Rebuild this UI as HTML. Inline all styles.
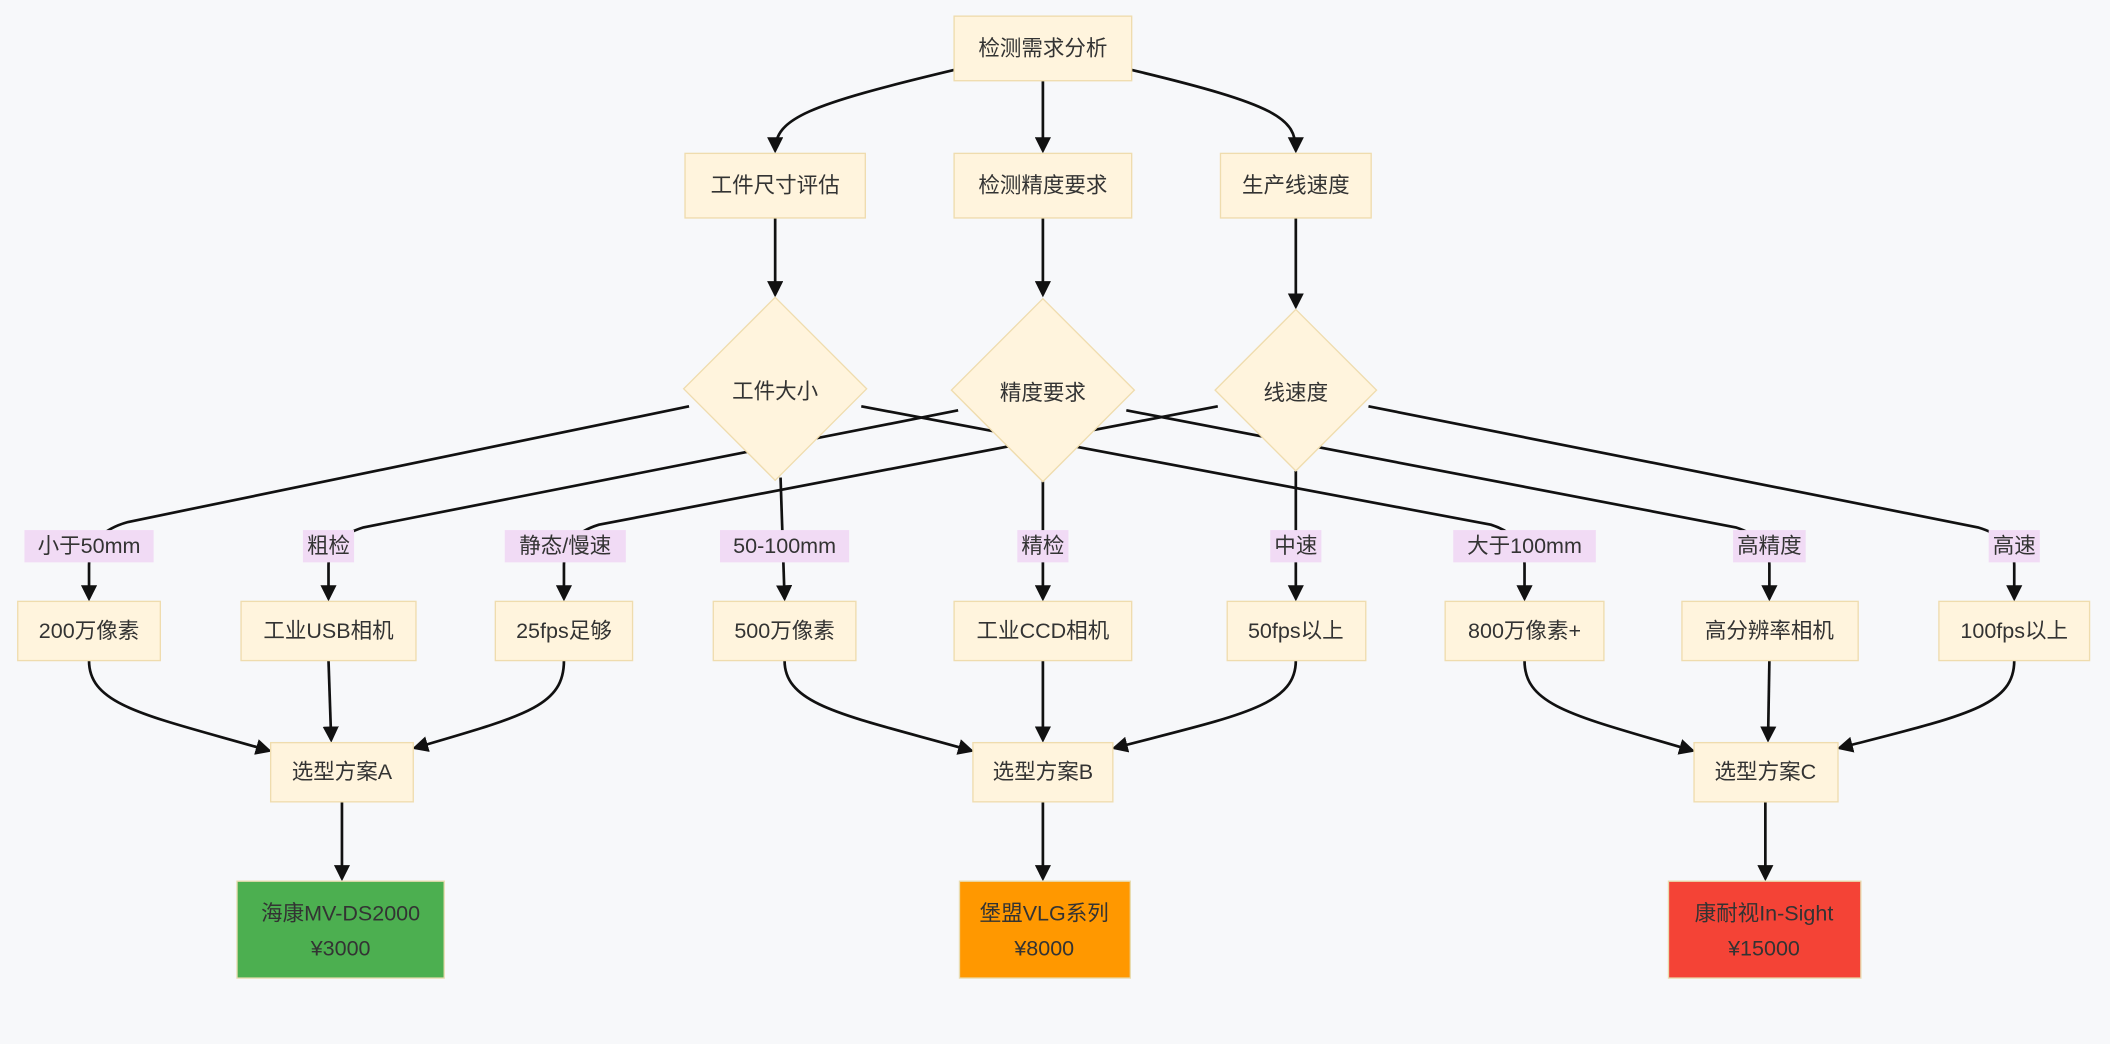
<!DOCTYPE html>
<html><head><meta charset="utf-8"><style>
html,body{margin:0;padding:0;background:#f7f8fa;}
svg{display:block}
text{font-family:"Liberation Sans","Noto Sans CJK SC",sans-serif;font-size:16px;fill:#333;text-anchor:middle;dominant-baseline:central}
.n{fill:#fff4dd;stroke:#efdcae;stroke-width:1}
.e{fill:none;stroke:#111;stroke-width:2}
.lb{fill:#f1dbf5}
</style></head><body>
<svg width="2110" height="1044" viewBox="0 0 1568 776" xmlns="http://www.w3.org/2000/svg">
<defs><marker id="a" markerWidth="12" markerHeight="12" refX="10" refY="6" orient="auto" markerUnits="userSpaceOnUse"><path d="M0,0 L12,6 L0,12 z" fill="#111"/></marker></defs>
<rect width="1568" height="776" fill="#f7f8fa"/>
<!-- edges top -->
<path class="e" marker-end="url(#a)" d="M709,52 C600,78 576,88 576,112"/>
<path class="e" marker-end="url(#a)" d="M775,60 L775,112"/>
<path class="e" marker-end="url(#a)" d="M841,52 C950,78 963,88 963,112"/>
<path class="e" marker-end="url(#a)" d="M576,162 L576,219"/>
<path class="e" marker-end="url(#a)" d="M775,162 L775,219"/>
<path class="e" marker-end="url(#a)" d="M963,162 L963,228"/>
<!-- diamond to row4 -->
<path class="e" marker-end="url(#a)" d="M512,302 L95,388 Q66,396 66,420 L66,445"/>
<path class="e" marker-end="url(#a)" d="M712,305 L270,392 Q244,400 244,420 L244,445"/>
<path class="e" marker-end="url(#a)" d="M905,302 L445,390 Q419,398 419,420 L419,445"/>
<path class="e" marker-end="url(#a)" d="M580,355 L583,445"/>
<path class="e" marker-end="url(#a)" d="M775,358 L775,445"/>
<path class="e" marker-end="url(#a)" d="M963,350 L963,445"/>
<path class="e" marker-end="url(#a)" d="M640,302 L1108,390 Q1133,398 1133,420 L1133,445"/>
<path class="e" marker-end="url(#a)" d="M837,305 L1290,392 Q1315,400 1315,420 L1315,445"/>
<path class="e" marker-end="url(#a)" d="M1017,302 L1470,392 Q1497,400 1497,420 L1497,445"/>
<!-- row4 to row5 -->
<path class="e" marker-end="url(#a)" d="M66,491 C66,525 110,532 200,558"/>
<path class="e" marker-end="url(#a)" d="M244,491 L246,550"/>
<path class="e" marker-end="url(#a)" d="M419,491 C419,525 390,532 308,556"/>
<path class="e" marker-end="url(#a)" d="M583,491 C583,525 630,532 722,558"/>
<path class="e" marker-end="url(#a)" d="M775,491 L775,550"/>
<path class="e" marker-end="url(#a)" d="M963,491 C963,525 920,532 828,556"/>
<path class="e" marker-end="url(#a)" d="M1133,491 C1133,525 1170,532 1258,558"/>
<path class="e" marker-end="url(#a)" d="M1315,491 L1314,550"/>
<path class="e" marker-end="url(#a)" d="M1497,491 C1497,525 1460,532 1367,556"/>
<path class="e" marker-end="url(#a)" d="M254,596 L254,653"/>
<path class="e" marker-end="url(#a)" d="M775,596 L775,653"/>
<path class="e" marker-end="url(#a)" d="M1312,596 L1312,653"/>
<!-- nodes -->
<rect class="n" x="709" y="12" width="132" height="48"/><text x="775" y="36">检测需求分析</text>
<rect class="n" x="509" y="114" width="134" height="48"/><text x="576" y="138">工件尺寸评估</text>
<rect class="n" x="709" y="114" width="132" height="48"/><text x="775" y="138">检测精度要求</text>
<rect class="n" x="907" y="114" width="112" height="48"/><text x="963" y="138">生产线速度</text>
<polygon class="n" points="576,221 644,289 576,357 508,289"/><text x="576" y="291">工件大小</text>
<polygon class="n" points="775,222 843,290 775,358 707,290"/><text x="775" y="292">精度要求</text>
<polygon class="n" points="963,230 1023,290 963,350 903,290"/><text x="963" y="292">线速度</text>
<!-- labels -->
<rect class="lb" x="18" y="394" width="96" height="24"/><text x="66" y="406">小于50mm</text>
<rect class="lb" x="225" y="394" width="38" height="24"/><text x="244" y="406">粗检</text>
<rect class="lb" x="375" y="394" width="90" height="24"/><text x="420" y="406">静态/慢速</text>
<rect class="lb" x="535" y="394" width="96" height="24"/><text x="583" y="406">50-100mm</text>
<rect class="lb" x="756" y="394" width="38" height="24"/><text x="775" y="406">精检</text>
<rect class="lb" x="944" y="394" width="38" height="24"/><text x="963" y="406">中速</text>
<rect class="lb" x="1080" y="394" width="106" height="24"/><text x="1133" y="406">大于100mm</text>
<rect class="lb" x="1288" y="394" width="54" height="24"/><text x="1315" y="406">高精度</text>
<rect class="lb" x="1478" y="394" width="38" height="24"/><text x="1497" y="406">高速</text>
<!-- row4 -->
<rect class="n" x="13" y="447" width="106" height="44"/><text x="66" y="469">200万像素</text>
<rect class="n" x="179" y="447" width="130" height="44"/><text x="244" y="469">工业USB相机</text>
<rect class="n" x="368" y="447" width="102" height="44"/><text x="419" y="469">25fps足够</text>
<rect class="n" x="530" y="447" width="106" height="44"/><text x="583" y="469">500万像素</text>
<rect class="n" x="709" y="447" width="132" height="44"/><text x="775" y="469">工业CCD相机</text>
<rect class="n" x="912" y="447" width="103" height="44"/><text x="963" y="469">50fps以上</text>
<rect class="n" x="1074" y="447" width="118" height="44"/><text x="1133" y="469">800万像素+</text>
<rect class="n" x="1250" y="447" width="131" height="44"/><text x="1315" y="469">高分辨率相机</text>
<rect class="n" x="1441" y="447" width="112" height="44"/><text x="1497" y="469">100fps以上</text>
<!-- row5 -->
<rect class="n" x="201" y="552" width="106" height="44"/><text x="254" y="574">选型方案A</text>
<rect class="n" x="723" y="552" width="104" height="44"/><text x="775" y="574">选型方案B</text>
<rect class="n" x="1259" y="552" width="107" height="44"/><text x="1312" y="574">选型方案C</text>
<!-- row6 -->
<rect x="176" y="655" width="154" height="72" fill="#4caf50" stroke="#e8dcb0"/><text x="253" y="679">海康MV-DS2000</text><text x="253" y="705">¥3000</text>
<rect x="713" y="655" width="127" height="72" fill="#ff9800" stroke="#e8dcb0"/><text x="776" y="679">堡盟VLG系列</text><text x="776" y="705">¥8000</text>
<rect x="1240" y="655" width="143" height="72" fill="#f44336" stroke="#e8dcb0"/><text x="1311" y="679">康耐视In-Sight</text><text x="1311" y="705">¥15000</text>
</svg>
</body></html>
